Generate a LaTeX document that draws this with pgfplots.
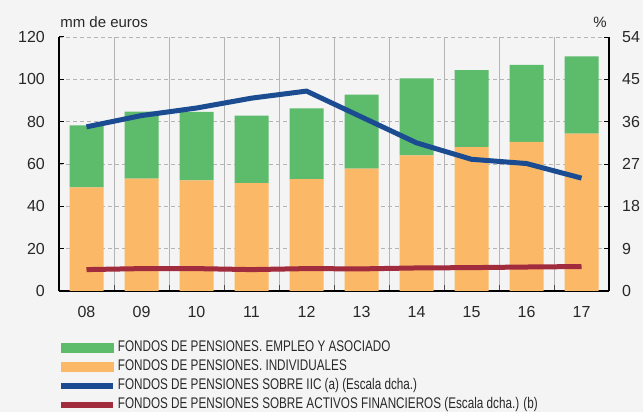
\documentclass[border=0pt]{standalone}
\usepackage{fontspec}
\setmainfont{Liberation Sans}
\newfontfamily\legfont[FakeStretch=0.76]{Liberation Sans}
\usepackage{pgfplots}
\pgfplotsset{compat=1.18}
\definecolor{bg}{RGB}{244,244,244}
\definecolor{cgreen}{RGB}{93,187,108}
\definecolor{corange}{RGB}{251,184,102}
\definecolor{cblue}{RGB}{27,76,145}
\definecolor{cred}{RGB}{160,44,62}
\definecolor{txt}{RGB}{40,40,40}
\definecolor{gridc}{RGB}{180,180,180}
\begin{document}
\begin{tikzpicture}
\fill[bg] (0bp,0bp) rectangle (643bp,412bp);
\path[use as bounding box] (0bp,0bp) rectangle (643bp,412bp);
\pgfplotsset{
  common/.style={
    scale only axis, width=550bp, height=254bp,
    at={(59bp,121bp)}, anchor=south west,
    xmin=-0.5, xmax=9.5,
    tick align=inside,
    major tick length=5bp,
    axis line style={black, line width=1.6bp},
    tick style={black, line width=1bp},
    /pgf/number format/assume math mode=true,
    ticklabel style={font=\fontsize{16bp}{18bp}\selectfont, text=txt},
  }
}
\begin{axis}[common,
  ybar stacked, bar width=34bp,
  ymin=0, ymax=120, ytick={0,20,...,120},
  axis x line*=bottom, axis y line*=left,
  xtick={0,...,9},
  xticklabels={08,09,10,11,12,13,14,15,16,17},
  major x tick style={draw=none},
  minor xtick={0.5,1.5,...,8.5},
  minor x tick style={black!70, line width=1bp},
  minor tick length=6bp,
  xminorgrids=true,
  minor x grid style={gridc, line width=0.9bp},
  ymajorgrids=true,
  major y grid style={gridc, line width=0.9bp, dash pattern=on 4bp off 3bp},
  yticklabel style={inner sep=0pt, anchor=east, xshift=-14bp},
  xticklabel style={inner sep=0pt, anchor=north, yshift=-15bp},
]
\addplot[fill=corange, draw=none] coordinates {(0,49.0) (1,53.1) (2,52.3) (3,51.0) (4,52.9) (5,57.8) (6,64.1) (7,68.0) (8,70.4) (9,74.4)};
\addplot[fill=cgreen, draw=none] coordinates {(0,29.3) (1,31.6) (2,32.3) (3,31.9) (4,33.4) (5,35.0) (6,36.4) (7,36.4) (8,36.4) (9,36.5)};
\end{axis}
\begin{axis}[common,
  clip mode=individual,
  ymin=0, ymax=54, ytick={0,9,...,54},
  axis y line*=right, axis x line=none,
  yticklabel style={inner sep=0pt, anchor=west, xshift=13bp},
  legend cell align=left,
  legend style={at={(-0.002,-0.195)}, anchor=north west, draw=none, fill=none,
    inner sep=0pt, outer sep=0pt,
    font=\legfont\fontsize{15.4bp}{18bp}\selectfont, text=txt,
    nodes={inner sep=0pt, anchor=west, text height=11bp, text depth=3bp},
    row sep=5bp, column sep=2bp},
]
\addlegendimage{legend image code/.code={\fill[cgreen] (0bp,-4.7bp) rectangle (52bp,4.7bp);}}
\addlegendentry{FONDOS DE PENSIONES. EMPLEO Y ASOCIADO}
\addlegendimage{legend image code/.code={\fill[corange] (0bp,-4.7bp) rectangle (52bp,4.7bp);}}
\addlegendentry{FONDOS DE PENSIONES. INDIVIDUALES}
\addplot[cblue, line width=5bp, mark=none,
  legend image code/.code={\draw[cblue, line width=6bp] (0bp,0bp) -- (52bp,0bp);}]
  coordinates {(0,34.9) (1,37.3) (2,38.9) (3,41.0) (4,42.5) (5,37.0) (6,31.5) (7,28.0) (8,27.1) (9,24.0)};
\addlegendentry{FONDOS DE PENSIONES SOBRE IIC (a) (Escala dcha.)}
\addplot[cred, line width=5bp, mark=none,
  legend image code/.code={\draw[cred, line width=6bp] (0bp,0bp) -- (52bp,0bp);}]
  coordinates {(0,4.55) (1,4.76) (2,4.76) (3,4.55) (4,4.76) (5,4.7) (6,4.9) (7,4.97) (8,5.1) (9,5.2)};
\addlegendentry{FONDOS DE PENSIONES SOBRE ACTIVOS FINANCIEROS (Escala dcha.) (b)}
\node[anchor=base west, inner sep=0pt, text=txt, font=\fontsize{15bp}{17bp}\selectfont] at (axis description cs:0.002,1) [yshift=10bp] {mm de euros};
\node[anchor=base east, inner sep=0pt, text=txt, font=\fontsize{15bp}{17bp}\selectfont] at (axis description cs:1,1) [xshift=-2bp, yshift=10bp] {\%};
\end{axis}
\end{tikzpicture}
\end{document}
